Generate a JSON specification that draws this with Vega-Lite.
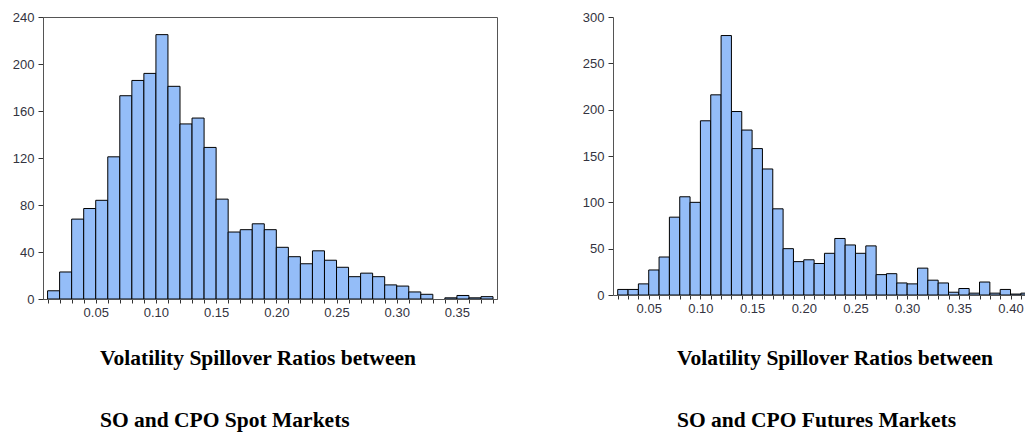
{
  "$schema": "https://vega.github.io/schema/vega-lite/v6.json",
  "background": "white",
  "padding": {"left": 11, "top": 10, "right": 0, "bottom": 0},
  "bounds": "flush",
  "spacing": 116,
  "config": {
    "view": {"stroke": null},
    "axis": {
      "labelFont": "Liberation Sans",
      "labelFontSize": 13,
      "labelColor": "#333340",
      "domainColor": "#555555",
      "tickColor": "#333333",
      "tickSize": 5,
      "grid": false,
      "title": null,
      "labelOverlap": false,
      "labelFlush": false,
      "labelBound": false
    },
    "axisX": {"tickSize": 4, "labelPadding": 3},
    "axisY": {"labelPadding": 4},
    "title": {
      "font": "Liberation Serif",
      "fontSize": 21.5,
      "fontWeight": "bold",
      "color": "black",
      "anchor": "start",
      "frame": "group",
      "orient": "bottom",
      "lineHeight": 62,
      "offset": 29
    }
  },
  "datasets": {
    "spot": [
      {"start": 0.01, "end": 0.02, "count": 7},
      {"start": 0.02, "end": 0.03, "count": 23},
      {"start": 0.03, "end": 0.04, "count": 68},
      {"start": 0.04, "end": 0.05, "count": 77},
      {"start": 0.05, "end": 0.06, "count": 84},
      {"start": 0.06, "end": 0.07, "count": 121},
      {"start": 0.07, "end": 0.08, "count": 173},
      {"start": 0.08, "end": 0.09, "count": 186},
      {"start": 0.09, "end": 0.10, "count": 192},
      {"start": 0.10, "end": 0.11, "count": 225},
      {"start": 0.11, "end": 0.12, "count": 181},
      {"start": 0.12, "end": 0.13, "count": 149},
      {"start": 0.13, "end": 0.14, "count": 154},
      {"start": 0.14, "end": 0.15, "count": 129},
      {"start": 0.15, "end": 0.16, "count": 85},
      {"start": 0.16, "end": 0.17, "count": 57},
      {"start": 0.17, "end": 0.18, "count": 59},
      {"start": 0.18, "end": 0.19, "count": 64},
      {"start": 0.19, "end": 0.20, "count": 59},
      {"start": 0.20, "end": 0.21, "count": 44},
      {"start": 0.21, "end": 0.22, "count": 36},
      {"start": 0.22, "end": 0.23, "count": 30},
      {"start": 0.23, "end": 0.24, "count": 41},
      {"start": 0.24, "end": 0.25, "count": 33},
      {"start": 0.25, "end": 0.26, "count": 27},
      {"start": 0.26, "end": 0.27, "count": 19},
      {"start": 0.27, "end": 0.28, "count": 22},
      {"start": 0.28, "end": 0.29, "count": 19},
      {"start": 0.29, "end": 0.30, "count": 12},
      {"start": 0.30, "end": 0.31, "count": 11},
      {"start": 0.31, "end": 0.32, "count": 6},
      {"start": 0.32, "end": 0.33, "count": 4},
      {"start": 0.34, "end": 0.35, "count": 1},
      {"start": 0.35, "end": 0.36, "count": 3},
      {"start": 0.36, "end": 0.37, "count": 1},
      {"start": 0.37, "end": 0.38, "count": 2}
    ],
    "futures": [
      {"start": 0.02, "end": 0.03, "count": 6},
      {"start": 0.03, "end": 0.04, "count": 6},
      {"start": 0.04, "end": 0.05, "count": 12},
      {"start": 0.05, "end": 0.06, "count": 27},
      {"start": 0.06, "end": 0.07, "count": 41},
      {"start": 0.07, "end": 0.08, "count": 84},
      {"start": 0.08, "end": 0.09, "count": 106},
      {"start": 0.09, "end": 0.10, "count": 100},
      {"start": 0.10, "end": 0.11, "count": 188},
      {"start": 0.11, "end": 0.12, "count": 216},
      {"start": 0.12, "end": 0.13, "count": 280},
      {"start": 0.13, "end": 0.14, "count": 198},
      {"start": 0.14, "end": 0.15, "count": 178},
      {"start": 0.15, "end": 0.16, "count": 158},
      {"start": 0.16, "end": 0.17, "count": 136},
      {"start": 0.17, "end": 0.18, "count": 93},
      {"start": 0.18, "end": 0.19, "count": 50},
      {"start": 0.19, "end": 0.20, "count": 36},
      {"start": 0.20, "end": 0.21, "count": 38},
      {"start": 0.21, "end": 0.22, "count": 34},
      {"start": 0.22, "end": 0.23, "count": 45},
      {"start": 0.23, "end": 0.24, "count": 61},
      {"start": 0.24, "end": 0.25, "count": 54},
      {"start": 0.25, "end": 0.26, "count": 45},
      {"start": 0.26, "end": 0.27, "count": 53},
      {"start": 0.27, "end": 0.28, "count": 22},
      {"start": 0.28, "end": 0.29, "count": 23},
      {"start": 0.29, "end": 0.30, "count": 13},
      {"start": 0.30, "end": 0.31, "count": 12},
      {"start": 0.31, "end": 0.32, "count": 29},
      {"start": 0.32, "end": 0.33, "count": 16},
      {"start": 0.33, "end": 0.34, "count": 13},
      {"start": 0.34, "end": 0.35, "count": 3},
      {"start": 0.35, "end": 0.36, "count": 7},
      {"start": 0.36, "end": 0.37, "count": 2},
      {"start": 0.37, "end": 0.38, "count": 14},
      {"start": 0.38, "end": 0.39, "count": 2},
      {"start": 0.39, "end": 0.40, "count": 6},
      {"start": 0.40, "end": 0.41, "count": 1},
      {"start": 0.41, "end": 0.42, "count": 2}
    ]
  },
  "hconcat": [
    {
      "width": 454,
      "height": 282,
      "view": {"stroke": "#555555", "strokeWidth": 1},
      "title": {"text": ["Volatility Spillover Ratios between", "SO and CPO Spot Markets"], "dx": 57},
      "data": {"name": "spot"},
      "mark": {"type": "bar", "fill": "#94BDF8", "stroke": "black", "strokeWidth": 1, "clip": true},
      "encoding": {
        "x": {
          "field": "start",
          "type": "quantitative",
          "scale": {"domain": [0.0062, 0.3833], "nice": false, "zero": false},
          "axis": {
            "values": [0.01,0.02,0.03,0.04,0.05,0.06,0.07,0.08,0.09,0.10,0.11,0.12,0.13,0.14,0.15,0.16,0.17,0.18,0.19,0.20,0.21,0.22,0.23,0.24,0.25,0.26,0.27,0.28,0.29,0.30,0.31,0.32,0.33,0.34,0.35,0.36,0.37,0.38],
            "labelExpr": "round(datum.value*100) % 5 == 0 ? format(datum.value, '.2f') : ''"
          }
        },
        "x2": {"field": "end"},
        "y": {
          "field": "count",
          "type": "quantitative",
          "scale": {"domain": [0, 240], "nice": false},
          "axis": {"values": [0, 40, 80, 120, 160, 200, 240]}
        },
        "y2": {"datum": 0}
      }
    },
    {
      "width": 412,
      "height": 278,
      "title": {"text": ["Volatility Spillover Ratios between", "SO and CPO Futures Markets"], "dx": 64, "offset": 33},
      "layer": [
        {
          "data": {"name": "futures"},
          "mark": {"type": "bar", "fill": "#94BDF8", "stroke": "black", "strokeWidth": 1, "clip": true},
          "encoding": {
            "x": {
              "field": "start",
              "type": "quantitative",
              "scale": {"domain": [0.01544, 0.414], "nice": false, "zero": false},
              "axis": {
                "values": [0.02,0.03,0.04,0.05,0.06,0.07,0.08,0.09,0.10,0.11,0.12,0.13,0.14,0.15,0.16,0.17,0.18,0.19,0.20,0.21,0.22,0.23,0.24,0.25,0.26,0.27,0.28,0.29,0.30,0.31,0.32,0.33,0.34,0.35,0.36,0.37,0.38,0.39,0.40,0.41],
                "labelExpr": "round(datum.value*100) % 5 == 0 ? format(datum.value, '.2f') : ''"
              }
            },
            "x2": {"field": "end"},
            "y": {
              "field": "count",
              "type": "quantitative",
              "scale": {"domain": [0, 300], "nice": false},
              "axis": {"values": [0, 50, 100, 150, 200, 250, 300]}
            },
            "y2": {"datum": 0}
          }
        },
        {
          "mark": {"type": "rule", "color": "#555555", "strokeWidth": 1},
          "encoding": {"y": {"datum": 300, "type": "quantitative"}}
        }
      ]
    }
  ]
}
